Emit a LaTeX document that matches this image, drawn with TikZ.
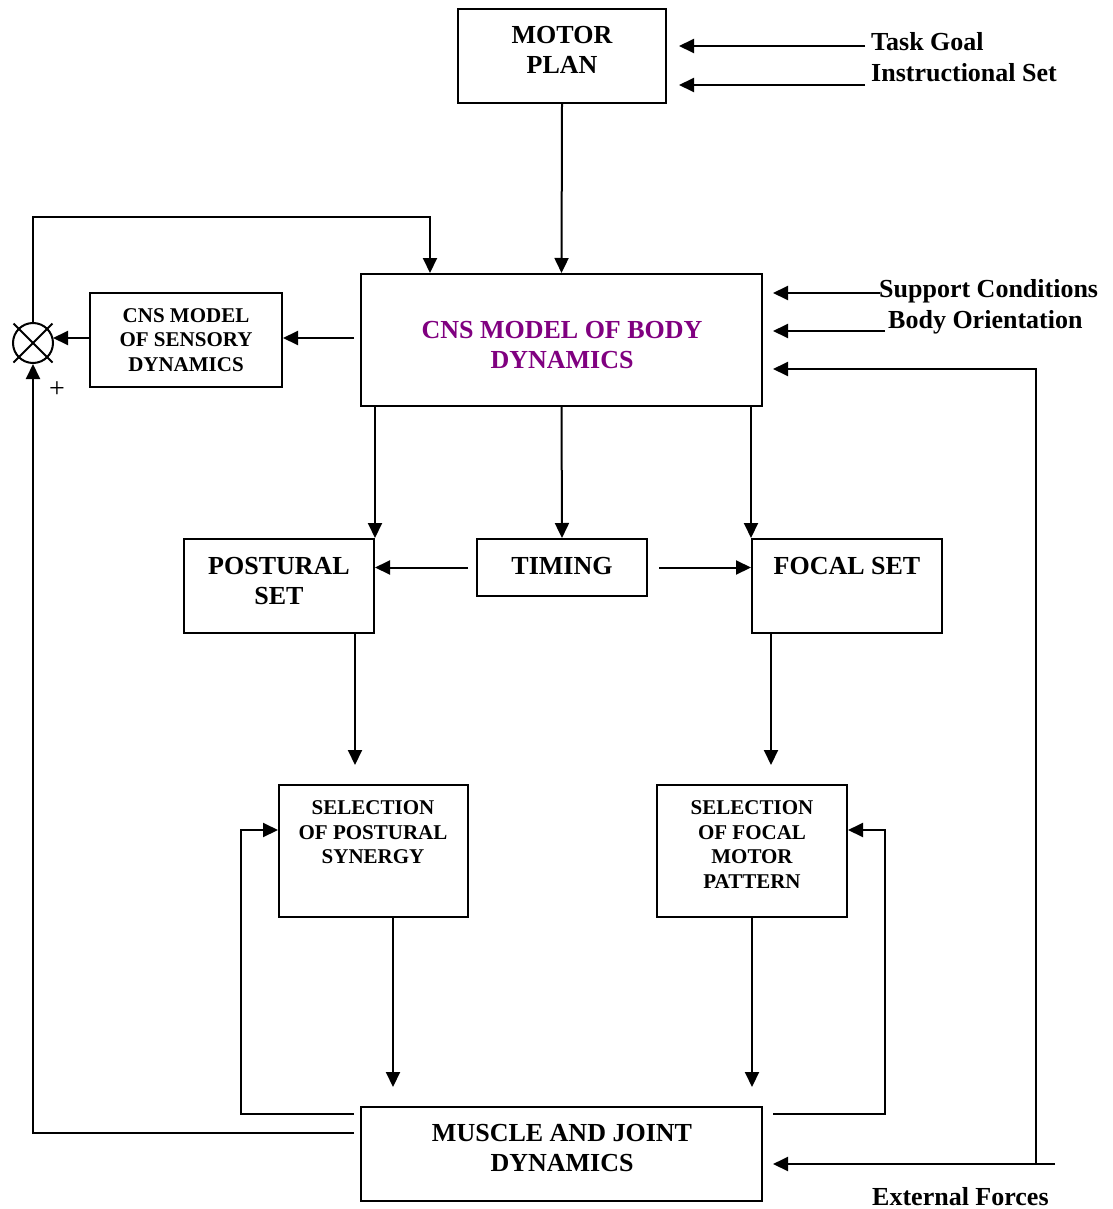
\documentclass[tikz,border=0pt]{standalone}
\usepackage{fontspec}
\setmainfont{Liberation Serif}
\usetikzlibrary{arrows.meta,calc}
\definecolor{cnspurple}{RGB}{128,0,128}
\begin{document}
\begin{tikzpicture}[x=1pt,y=-1pt,
  box/.style={draw, line width=2pt, inner sep=0pt},
  big/.style={font=\fontsize{26}{30}\selectfont\bfseries, align=center, inner sep=0pt},
  small/.style={font=\fontsize{21}{24.5}\selectfont\bfseries, align=center, inner sep=0pt},
  conn/.style={line width=2pt, -{Triangle[length=15pt,width=14pt]}},
  plain/.style={line width=2pt}]
\useasboundingbox[fill=white] (0,0) rectangle (1112,1209);

% boxes
\node[box, minimum width=208pt, minimum height=94pt] (motor) at (562,56) {};
\node[box, minimum width=401pt, minimum height=132pt] (body) at (561.5,340) {};
\node[box, minimum width=192pt, minimum height=94pt] (sens) at (186,340) {};
\node[box, minimum width=190pt, minimum height=94pt] (post) at (279,586) {};
\node[box, minimum width=170pt, minimum height=57pt] (timing) at (562,567.5) {};
\node[box, minimum width=190pt, minimum height=94pt] (focal) at (847,586) {};
\node[box, minimum width=189pt, minimum height=132pt] (selp) at (373.5,851) {};
\node[box, minimum width=190pt, minimum height=132pt] (self) at (752,851) {};
\node[box, minimum width=401pt, minimum height=94pt] (muscle) at (561.5,1154) {};
\node[draw, circle, line width=2pt, minimum size=40pt, inner sep=0pt] (sum) at (33,343) {};
\draw[plain] ($(sum.center)+(-19.5,-19.5)$) -- ($(sum.center)+(19.5,19.5)$);
\draw[plain] ($(sum.center)+(-19.5,19.5)$) -- ($(sum.center)+(19.5,-19.5)$);

% texts in boxes
\node[big] (motort) at (562,50) {MOTOR\\PLAN};
\node[big, text=cnspurple] (bodyt) at (562,345) {CNS MODEL OF BODY\\DYNAMICS};
\node[small] (senst) at (186,340) {CNS MODEL\\OF SENSORY\\DYNAMICS};
\node[big] (postt) at (279,581) {POSTURAL\\SET};
\node[big] (timingt) at (562,566) {TIMING};
\node[big] (focalt) at (847,566) {FOCAL SET};
\node[small] (selpt) at (373,832.5) {SELECTION\\OF POSTURAL\\SYNERGY};
\node[small] (selft) at (752,844.5) {SELECTION\\OF FOCAL\\MOTOR\\PATTERN};
\node[big] (musclet) at (562,1148.5) {MUSCLE AND JOINT\\DYNAMICS};

% outside labels
\node[big, anchor=base west] (tgl) at (871,50.5) {Task Goal};
\node[big, anchor=base west] (isl) at (871,81.5) {Instructional Set};
\node[big, anchor=base west] (scl) at (879,297.5) {Support Conditions};
\node[big, anchor=base west] (bol) at (888,328.5) {Body Orientation};
\node[big, anchor=base west] (efl) at (872,1205) {External Forces};
\node[font=\fontsize{28}{30}\selectfont, inner sep=0pt] (plus) at (57,390) {+};

% coordinates
\coordinate (tg) at (865,46);
\coordinate (is) at (865,85);
\coordinate (sc) at (880,293);
\coordinate (bo) at (885,331);
\coordinate (ef) at (1055,1164);
\coordinate (efc) at (1036,1164);
\coordinate (e1) at (1036,369);
\coordinate (t2) at (430,217);
\coordinate (b1) at (33,1133);
\coordinate (c1) at (355,0);
\coordinate (c2) at (771,0);
\coordinate (c3) at (393,0);
\coordinate (l1) at (241,1114);
\coordinate (l2) at (0,830);
\coordinate (r1) at (885,1114);
\coordinate (s1) at (0,338);

% connectors
\draw[conn] (tg) -- ($(tg -| motor.east)+(12,0)$);
\draw[conn] (is) -- ($(is -| motor.east)+(12,0)$);
\draw[conn] (motor.south) -- (body.north);
\draw[conn] (sc) -- ($(sc -| body.east)+(10,0)$);
\draw[conn] (bo) -- ($(bo -| body.east)+(10,0)$);
\draw[conn] (ef) -- ($(ef -| muscle.east)+(10,0)$);
\draw[conn] (efc) -- (e1) -- ($(e1 -| body.east)+(10,0)$);
\draw[conn] ($(body.west |- s1)+(-6,0)$) -- (sens.east |- s1);
\draw[conn] (sens.west |- s1) -- ($(sum.east |- s1)+(-1,0)$);
\draw[conn] (sum.north) |- (t2) -- (t2 |- body.north);
\draw[conn] ($(muscle.west |- b1)+(-6,0)$) -- (b1) -- (sum.south);
\draw[conn] (body.south -| post.east) -- (post.north east);
\draw[conn] (body.south) -- (timing.north);
\draw[conn] (body.south -| focal.west) -- (focal.north west);
\draw[conn] ($(timing.west)+(-8,0)$) -- (timing.west -| post.east);
\draw[conn] ($(timing.east)+(11,0)$) -- (timing.east -| focal.west);
\draw[conn] (post.south -| c1) -- ($(selp.north -| c1)+(0,-19)$);
\draw[conn] (focal.south -| c2) -- ($(self.north -| c2)+(0,-19)$);
\draw[conn] (selp.south -| c3) -- ($(muscle.north -| c3)+(0,-19)$);
\draw[conn] (self.south) -- ($(muscle.north -| self.south)+(0,-19)$);
\draw[conn] ($(muscle.west |- l1)+(-6,0)$) -- (l1) |- (selp.west |- l2);
\draw[conn] ($(muscle.east |- r1)+(10,0)$) -- (r1) |- (self.east |- l2);
\end{tikzpicture}
\end{document}
